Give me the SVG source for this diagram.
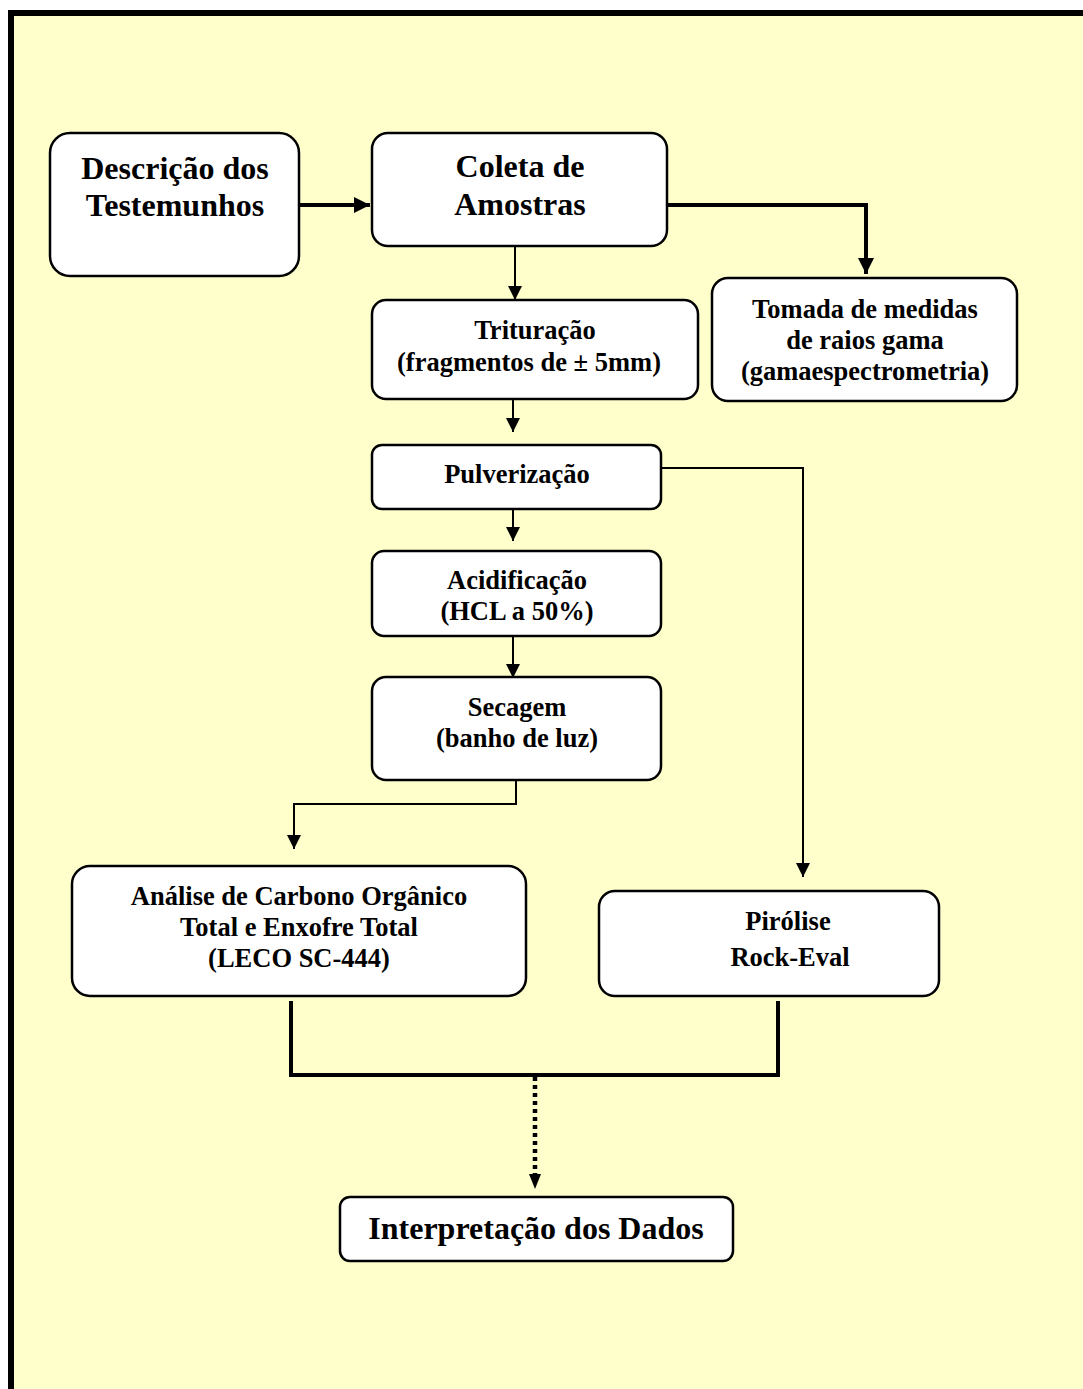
<svg xmlns="http://www.w3.org/2000/svg" width="1083" height="1389" viewBox="0 0 1083 1389">
<style>
.box{fill:#fff;stroke:#000;stroke-width:2.5}
.t{font-family:"Liberation Serif","Times New Roman",serif;font-weight:bold;fill:#000;text-anchor:middle}
.big{font-size:32px}
.mid{font-size:26.5px}
.thin{fill:none;stroke:#000;stroke-width:2}
.thick{fill:none;stroke:#000;stroke-width:4}
</style>
<defs>
<marker id="ah" markerUnits="userSpaceOnUse" markerWidth="16" markerHeight="16" viewBox="0 0 16 16" refX="16" refY="8" orient="auto">
<path d="M0,0 L16,8 L0,16 Z" fill="#000"/>
</marker>
<marker id="ahs" markerUnits="userSpaceOnUse" markerWidth="14" markerHeight="14" viewBox="0 0 14 14" refX="14" refY="7" orient="auto">
<path d="M0,0 L14,7 L0,14 Z" fill="#000"/>
</marker>
</defs>
<rect x="0" y="0" width="1083" height="1389" fill="#fff"/>
<rect x="14" y="16" width="1069" height="1373" fill="#FFFFCC"/>
<path d="M11,1389 V13 H1083" fill="none" stroke="#000" stroke-width="6"/>

<g id="connectors">
<path class="thick" d="M299,205 H370" marker-end="url(#ah)"/>
<path class="thick" d="M667,205 H866 V274" marker-end="url(#ah)"/>
<path class="thin" d="M515,246 V300" marker-end="url(#ahs)"/>
<path class="thin" d="M513,399 V432" marker-end="url(#ahs)"/>
<path class="thin" d="M513,509 V541" marker-end="url(#ahs)"/>
<path class="thin" d="M661,468 H803 V877" marker-end="url(#ahs)"/>
<path class="thin" d="M513,636 V678" marker-end="url(#ahs)"/>
<path class="thin" d="M516,780 V804 H294 V849" marker-end="url(#ahs)"/>
<path class="thick" d="M291,1001 V1075 H778 V1001"/>
<path fill="none" stroke="#000" stroke-width="4.5" stroke-dasharray="4,4" d="M535,1077 V1178"/>
<path d="M529,1174 L541,1174 L535,1189 Z" fill="#000"/>
</g>

<g id="n-descricao">
<rect class="box" x="50" y="133" width="249" height="143" rx="20"/>
<text class="t big" x="175" y="179">Descrição dos</text>
<text class="t big" x="175" y="216">Testemunhos</text>
</g>
<g id="n-coleta">
<rect class="box" x="372" y="133" width="295" height="113" rx="16"/>
<text class="t big" x="520" y="177">Coleta de</text>
<text class="t big" x="520" y="215">Amostras</text>
</g>
<g id="n-tomada">
<rect class="box" x="712" y="278" width="305" height="123" rx="16"/>
<text class="t mid" x="865" y="318">Tomada de medidas</text>
<text class="t mid" x="865" y="349">de raios gama</text>
<text class="t mid" x="865" y="380">(gamaespectrometria)</text>
</g>
<g id="n-trituracao">
<rect class="box" x="372" y="300" width="326" height="99" rx="14"/>
<text class="t mid" x="535" y="339">Trituração</text>
<text class="t mid" x="529" y="371">(fragmentos de ± 5mm)</text>
</g>
<g id="n-pulverizacao">
<rect class="box" x="372" y="445" width="289" height="64" rx="10"/>
<text class="t mid" x="517" y="483">Pulverização</text>
</g>
<g id="n-acidificacao">
<rect class="box" x="372" y="551" width="289" height="85" rx="12"/>
<text class="t mid" x="517" y="589">Acidificação</text>
<text class="t mid" x="517" y="620">(HCL a 50%)</text>
</g>
<g id="n-secagem">
<rect class="box" x="372" y="677" width="289" height="103" rx="14"/>
<text class="t mid" x="517" y="716">Secagem</text>
<text class="t mid" x="517" y="747">(banho de luz)</text>
</g>
<g id="n-analise">
<rect class="box" x="72" y="866" width="454" height="130" rx="18"/>
<text class="t mid" x="299" y="905">Análise de Carbono Orgânico</text>
<text class="t mid" x="299" y="936">Total e Enxofre Total</text>
<text class="t mid" x="299" y="967">(LECO SC-444)</text>
</g>
<g id="n-pirolise">
<rect class="box" x="599" y="891" width="340" height="105" rx="16"/>
<text class="t mid" x="788" y="930">Pirólise</text>
<text class="t mid" x="790" y="966">Rock-Eval</text>
</g>
<g id="n-interpretacao">
<rect class="box" x="340" y="1197" width="393" height="64" rx="10"/>
<text class="t big" x="536" y="1239">Interpretação dos Dados</text>
</g>
</svg>
